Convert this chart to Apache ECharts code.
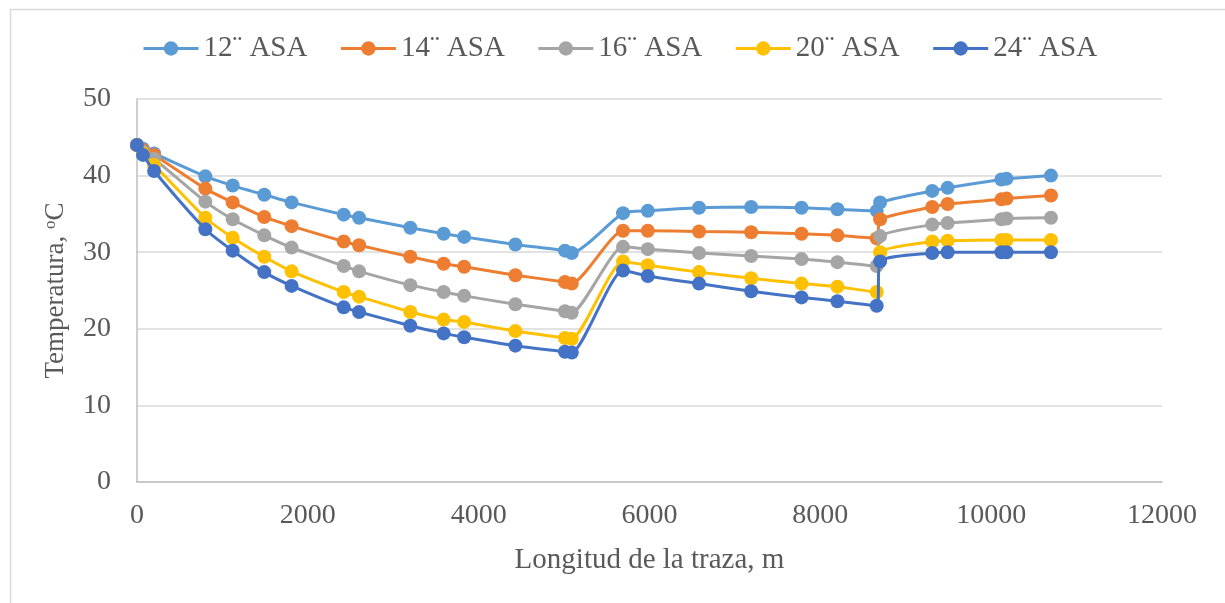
<!DOCTYPE html>
<html><head><meta charset="utf-8">
<script src="https://cdn.jsdelivr.net/npm/echarts@6/dist/echarts.min.js"></script>
<style>html,body{margin:0;padding:0;background:#fff}#c{width:1225px;height:603px}</style>
</head><body><div id="c"></div>
<script>
const distances = [0, 70, 200, 800, 1120, 1490, 1810, 2420, 2600, 3200, 3590, 3830, 4430, 5010, 5090, 5690, 5980, 6580, 7190, 7780, 8200, 8660, 8700, 9310, 9490, 10120, 10180, 10700];
const seriesNames = ['12¨ ASA', '14¨ ASA', '16¨ ASA', '20¨ ASA', '24¨ ASA'];
const t12 = [44.0, 43.5, 42.9, 39.9, 38.7, 37.5, 36.5, 34.9, 34.5, 33.2, 32.4, 32.0, 31.0, 30.2, 29.9, 35.1, 35.4, 35.8, 35.9, 35.8, 35.6, 35.4, 36.5, 38.0, 38.4, 39.5, 39.6, 40.0];
const t14 = [44.0, 43.3, 42.7, 38.3, 36.5, 34.6, 33.4, 31.4, 30.9, 29.4, 28.5, 28.1, 27.0, 26.1, 25.9, 32.8, 32.8, 32.7, 32.6, 32.4, 32.2, 31.8, 34.3, 35.9, 36.3, 36.9, 37.0, 37.4];
const t16 = [44.0, 43.1, 42.2, 36.6, 34.3, 32.2, 30.6, 28.2, 27.5, 25.7, 24.8, 24.3, 23.2, 22.3, 22.1, 30.7, 30.4, 29.9, 29.5, 29.1, 28.7, 28.2, 32.1, 33.6, 33.8, 34.3, 34.4, 34.5];
const t20 = [44.0, 42.9, 41.4, 34.5, 31.9, 29.4, 27.5, 24.8, 24.2, 22.2, 21.2, 20.9, 19.7, 18.8, 18.7, 28.8, 28.3, 27.4, 26.6, 25.9, 25.5, 24.8, 30.0, 31.4, 31.5, 31.6, 31.6, 31.6];
const t24 = [44.0, 42.7, 40.6, 33.0, 30.2, 27.4, 25.6, 22.8, 22.2, 20.4, 19.4, 18.9, 17.8, 17.0, 16.9, 27.6, 26.9, 25.9, 24.9, 24.1, 23.6, 23.0, 28.8, 29.9, 30.0, 30.0, 30.0, 30.0];
const colors = ['#5B9BD5', '#ED7D31', '#A5A5A5', '#FFC000', '#4472C4'];
const allValues = [t12, t14, t16, t20, t24];

const FONT = '"Liberation Serif", "Times New Roman", serif';
const chart = echarts.init(document.getElementById('c'), null, {renderer: 'canvas'});
chart.setOption({
  animation: false,
  backgroundColor: '#fff',
  color: colors,
  graphic: [{
    type: 'rect', left: 8, top: 7, silent: true,
    shape: {width: 1300, height: 700},
    style: {fill: 'none', stroke: '#d9d9d9', lineWidth: 1.5}
  }],
  legend: {
    top: 29, left: 137,
    itemWidth: 55, itemHeight: 18, itemGap: 32,
    lineStyle: {width: 3},
    textStyle: {fontFamily: FONT, fontSize: 29, color: '#595959'},
    data: seriesNames
  },
  grid: {left: 137, right: 63, top: 99, bottom: 121, containLabel: false},
  xAxis: {
    type: 'value', min: 0, max: 12000, interval: 2000,
    name: 'Longitud de la traza, m', nameLocation: 'middle', nameGap: 64,
    nameTextStyle: {fontFamily: FONT, fontSize: 29, color: '#595959'},
    axisLine: {show: true, onZero: false, lineStyle: {color: '#bfbfbf', width: 1.5}},
    axisTick: {show: false},
    axisLabel: {fontFamily: FONT, fontSize: 28, color: '#595959', margin: 20, formatter: v => String(v)},
    splitLine: {show: false}
  },
  yAxis: {
    type: 'value', min: 0, max: 50, interval: 10,
    name: 'Temperatura, {sup|o}C', nameLocation: 'middle', nameGap: 68, nameRotate: 90,
    nameTextStyle: {fontFamily: FONT, fontSize: 27, color: '#595959',
      rich: {sup: {fontFamily: FONT, fontSize: 17, color: '#595959', verticalAlign: 'top', padding: [0, 0, 10, 0]}}},
    axisLine: {show: true, lineStyle: {color: '#bfbfbf', width: 1.5}},
    axisTick: {show: false},
    axisLabel: {fontFamily: FONT, fontSize: 28, color: '#595959', margin: 26},
    splitLine: {show: true, lineStyle: {color: '#d9d9d9', width: 1.5}}
  },
  series: seriesNames.map((n, i) => ({
    name: n, type: 'line', smooth: 0.2,
    symbol: 'circle', symbolSize: 14,
    lineStyle: {width: 3, color: colors[i]},
    itemStyle: {color: colors[i]},
    z: 2 + i,
    data: distances.map((d, k) => [d, allValues[i][k]])
  }))
});
</script></body></html>
